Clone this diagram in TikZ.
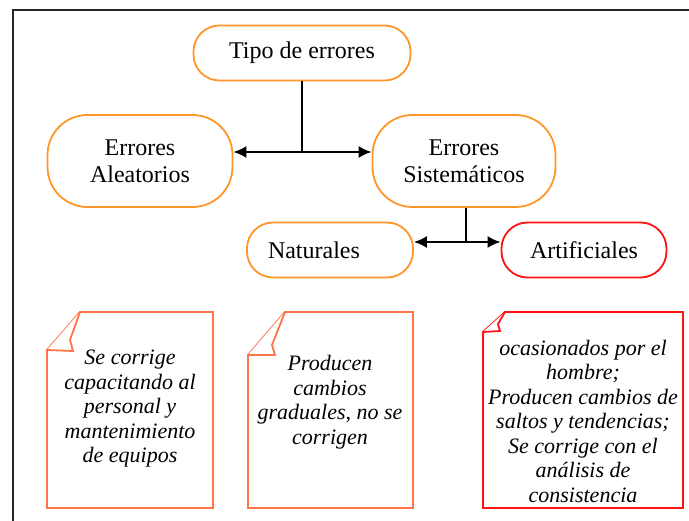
\documentclass[tikz,border=0pt]{standalone}
\usepackage{fontspec}
\setmainfont{Liberation Serif}
\usetikzlibrary{arrows.meta}
\definecolor{boxorange}{RGB}{255,150,40}
\definecolor{notecoral}{RGB}{255,115,70}
\definecolor{boxred}{RGB}{255,20,20}
\tikzset{
  catbox/.style={draw=boxorange, line width=1.8pt, fill=white, align=center,
    font=\fontsize{24}{27}\selectfont, inner sep=0pt},
  redbox/.style={catbox, draw=boxred},
  link/.style={line width=2pt, black},
  arr/.style={link, -{Latex[length=13pt,width=12pt]}},
  notetext/.style={align=center, font=\fontsize{22}{24.5}\selectfont\itshape, inner sep=0pt},
  noteline/.style={line width=1.8pt, line join=miter},
}
\begin{document}
\begin{tikzpicture}[x=1pt,y=-1pt]
\clip (0,0) rectangle (689,521);
\fill[white] (0,0) rectangle (689,521);
% outer frame
\draw[line width=2pt, black!85] (13,10) rectangle (720,560);

% category boxes
\node[catbox, minimum width=217pt, minimum height=55pt, rounded corners=26pt] (tipo) at (302,53) {Tipo de errores};
\node[catbox, minimum width=185pt, minimum height=92pt, rounded corners=40pt] (aleat) at (140,161) {Errores\\Aleatorios};
\node[catbox, minimum width=183pt, minimum height=92pt, rounded corners=40pt] (sist) at (464,161) {Errores\\Sistemáticos};
\node[catbox, minimum height=55pt, rounded corners=26pt, text width=124pt, inner xsep=21pt, align=left] (nat) at (330,250) {Naturales};
\node[redbox, minimum width=165pt, minimum height=55pt, rounded corners=26pt] (art) at (584,250) {Artificiales};

% connectors
\coordinate (j1) at (302,152);
\coordinate (j2) at (466,242);
\draw[link] (tipo.south) -- (j1);
\draw[arr] (j1) -- (j1 -| aleat.east);
\draw[arr] (j1) -- (j1 -| sist.west);
\draw[link] (sist.south -| j2) -- (j2);
\draw[arr] (j2) -- (j2 -| nat.east);
\draw[arr] (j2) -- (j2 -| art.west);

% notes with a curled corner
\draw[noteline, draw=notecoral, fill=white] (80,312) -- (213,312) -- (213,508) -- (47,508) -- (47,350) -- cycle;
\draw[noteline, draw=notecoral, fill=white] (80,312) -- (70,340) -- (73,351) -- (47,350);
\node[notetext] (n1) at (130,409) {Se corrige\\capacitando al\\personal y\\mantenimiento\\de equipos};

\draw[noteline, draw=notecoral, fill=white] (285,312) -- (413,312) -- (413,508) -- (248,508) -- (248,355) -- cycle;
\draw[noteline, draw=notecoral, fill=white] (285,312) -- (272,345) -- (275,355) -- (248,355);
\node[notetext] (n2) at (330,402) {Producen\\cambios\\graduales, no se\\corrigen};

\draw[noteline, draw=boxred, fill=white] (505,312) -- (683,312) -- (683,508) -- (483,508) -- (483,332) -- cycle;
\draw[noteline, draw=boxred, fill=white] (505,312) -- (498,324) -- (500,331) -- (483,332);
\node[notetext] (n3) at (583,421) {ocasionados por el\\hombre;\\Producen cambios de\\saltos y tendencias;\\Se corrige con el\\análisis de\\consistencia};
\end{tikzpicture}
\end{document}
